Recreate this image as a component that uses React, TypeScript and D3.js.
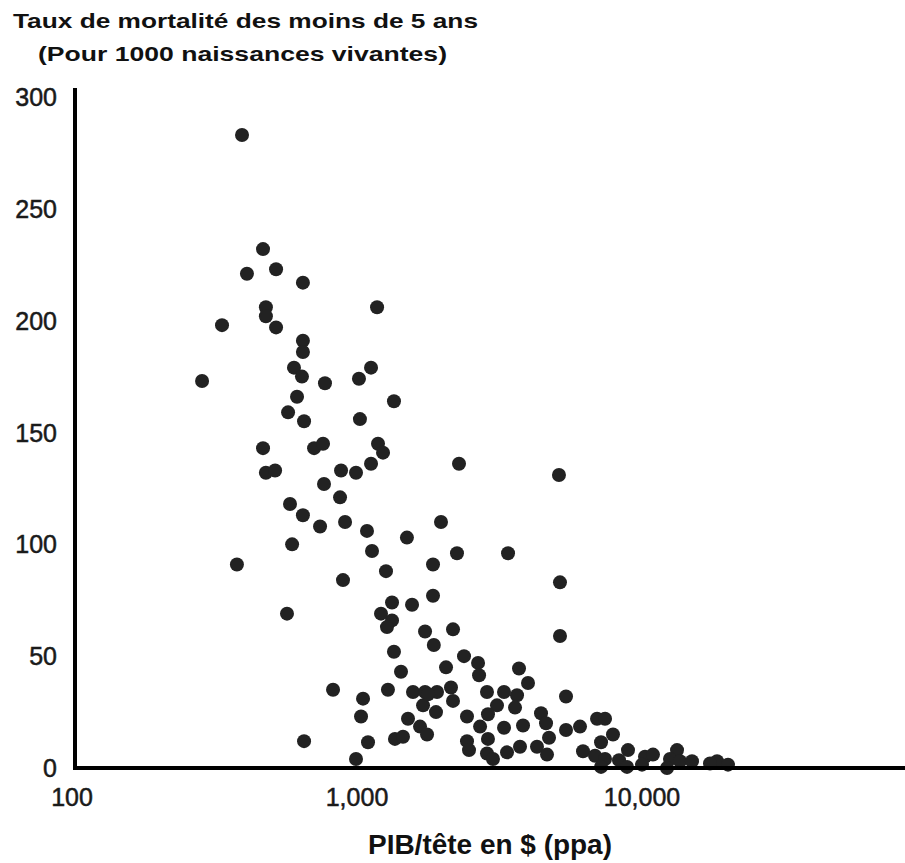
import React, { useEffect, useRef } from 'react';
import * as d3 from 'd3';

// GDP per head ($ ppp) and under-5 mortality (per 1000 live births), one entry per country
const gdpPerCapita = [
  395, 468, 411, 520, 646, 1176, 479, 479, 520, 336, 646, 646, 601, 641, 772, 1120, 1016, 1348, 286, 616,
  573, 652, 1024, 468, 479, 516, 707, 760, 1185, 1234, 1120, 879, 992, 766, 872, 582, 646, 742, 908, 1084,
  1497, 592, 1129, 379, 1264, 893, 1848, 2280, 5113, 1971, 2243, 3388, 5155, 568, 1327, 1214, 1327, 1274, 1560, 1733,
  1860, 1348, 1427, 824, 1284, 1572, 1733, 1705, 1050, 1033, 1510, 1664, 1761, 1359, 1450, 652, 1093, 992, 1848, 5155,
  2172, 2374, 2659, 2681, 2053, 3702, 3981, 5412, 1909, 2137, 2172, 1893, 2858, 3280, 3643, 3585, 3099, 2881, 2432, 2703,
  3280, 3824, 4422, 4605, 4718, 2881, 2432, 2472, 2858, 3000, 3360, 3732, 4281, 4642, 5412, 6060, 6954, 7418, 7911, 7182,
  6209, 6842, 7418, 8306, 8930, 8858, 10245, 10928, 13271, 12537, 13596, 14975, 12238, 18337, 20035, 10000, 7182, 17322, 1775
];
const under5Mortality = [
  283, 232, 221, 223, 217, 206, 206, 202, 197, 198, 191, 186, 179, 175, 172, 179, 174, 164, 173, 166,
  159, 155, 156, 143, 132, 133, 143, 145, 145, 141, 136, 133, 132, 127, 121, 118, 113, 108, 110, 106,
  103, 100, 97, 91, 88, 84, 91, 136, 131, 110, 96, 96, 83, 69, 74, 69, 66, 63, 73, 61,
  55, 52, 43, 35, 35, 34, 34, 28, 31, 23, 22, 18.5, 15, 13, 14, 12, 11.5, 4, 77, 59,
  62, 50, 47, 41.5, 45, 44.5, 38, 32, 34, 36, 30, 25, 34, 34, 32.5, 27, 28, 24, 23, 18.5,
  18, 19, 24.5, 20, 13.5, 13, 12, 8, 6.5, 4, 7, 9.5, 9.5, 6, 17, 18.5, 22, 22, 15, 11.5,
  7.5, 5.5, 4, 3.5, 8, 0.5, 5, 6, 8, 4, 3, 3, 0, 3, 1.5, 1.5, 0.5, 2, 33
];

const xTickValues = [100, 1000, 10000];
const yTickValues = [0, 50, 100, 150, 200, 250, 300];
const titleLines = ['Taux de mortalité des moins de 5 ans', '(Pour 1000 naissances vivantes)'];
const xAxisTitle = 'PIB/tête en $ (ppa)';

export default function App() {
  const ref = useRef<SVGSVGElement>(null);

  useEffect(() => {
    const svg = d3.select(ref.current);
    svg.selectAll('*').remove();

    const x = d3.scaleLog().domain([100, 10000]).range([72, 642]);
    const y = d3.scaleLinear().domain([0, 300]).range([768, 97]);
    const font = '"Liberation Sans", Arial, sans-serif';

    // title, two lines (the scan uses a wide bold face, so stretch the glyphs)
    svg.append('text')
      .attr('x', 13).attr('y', 28)
      .attr('textLength', 465).attr('lengthAdjust', 'spacingAndGlyphs')
      .style('font', `bold 21px ${font}`).attr('fill', '#111')
      .text(titleLines[0]);
    svg.append('text')
      .attr('x', 38).attr('y', 61)
      .attr('textLength', 409).attr('lengthAdjust', 'spacingAndGlyphs')
      .style('font', `bold 21px ${font}`).attr('fill', '#111')
      .text(titleLines[1]);

    // points
    svg.append('g')
      .selectAll('circle')
      .data(gdpPerCapita.map((g, i) => [g, under5Mortality[i]]))
      .enter()
      .append('circle')
      .attr('cx', d => x(d[0]))
      .attr('cy', d => y(d[1]))
      .attr('r', 7)
      .attr('fill', '#222');

    // axes lines
    svg.append('line')
      .attr('x1', 75).attr('x2', 75)
      .attr('y1', 88).attr('y2', y(0) + 2)
      .attr('stroke', '#000').attr('stroke-width', 4);
    svg.append('line')
      .attr('x1', 73).attr('x2', 905)
      .attr('y1', y(0)).attr('y2', y(0))
      .attr('stroke', '#000').attr('stroke-width', 4);

    // y tick labels
    svg.append('g')
      .selectAll('text')
      .data(yTickValues)
      .enter()
      .append('text')
      .attr('x', 57)
      .attr('y', d => y(d) + 9)
      .attr('text-anchor', 'end')
      .style('font', `25px ${font}`)
      .attr('fill', '#1a1a1a').attr('stroke', '#1a1a1a').attr('stroke-width', 0.5)
      .text(d => d);

    // x tick labels
    svg.append('g')
      .selectAll('text')
      .data(xTickValues)
      .enter()
      .append('text')
      .attr('x', d => x(d))
      .attr('y', 806)
      .attr('text-anchor', 'middle')
      .style('font', `25px ${font}`)
      .attr('fill', '#1a1a1a').attr('stroke', '#1a1a1a').attr('stroke-width', 0.5)
      .text(d => d3.format(',')(d));

    svg.append('text')
      .attr('x', 490).attr('y', 854)
      .attr('text-anchor', 'middle')
      .attr('textLength', 244).attr('lengthAdjust', 'spacingAndGlyphs')
      .style('font', `bold 27px ${font}`).attr('fill', '#111')
      .text(xAxisTitle);
  }, []);

  return (
    <svg ref={ref} width={905} height={863}
      style={{ position: 'absolute', left: 0, top: 0, background: '#fff' }} />
  );
}
